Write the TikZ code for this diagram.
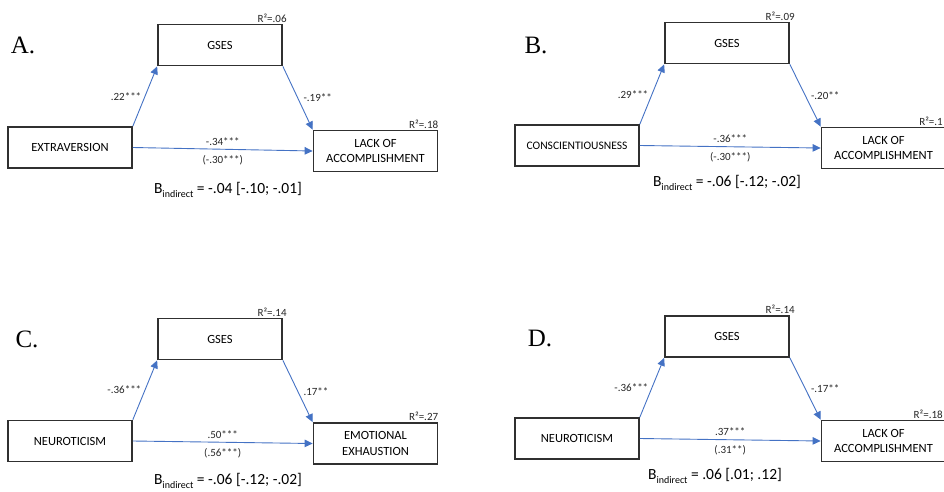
\documentclass[tikz,border=0pt]{standalone}
\usepackage{fontspec}
\setmainfont{Carlito}
\newfontfamily\letterfont{Liberation Serif}
\newcommand{\bind}[1]{B{\fontsize{10}{10}\selectfont\raisebox{-3.5pt}{indirect}} = #1}
\usepackage{tikz}
\usetikzlibrary{positioning, calc, arrows.meta}
\definecolor{pathblue}{HTML}{4472C4}
\definecolor{boxgray}{HTML}{303030}
\tikzset{>={Triangle[length=8pt,width=7.5pt]}}
\tikzset{
  var/.style={draw=boxgray, line width=1.7pt, minimum width=124pt, minimum height=41pt,
    align=center, inner sep=2pt, font=\fontsize{12.5}{15.5}\selectfont},
  coef/.style={font=\fontsize{11}{12}\selectfont, text=black!85},
  rsq/.style={coef, anchor=south east, inner sep=1pt},
  letter/.style={font=\letterfont\fontsize{25}{25}\selectfont},
  effect/.style={font=\fontsize{15.5}{18}\selectfont},
  link/.style={->, color=pathblue, line width=0.9pt}
}

\begin{document}
\begin{tikzpicture}[x=1pt, y=-1pt]
    \useasboundingbox (0,0) rectangle (944,492);
    \coordinate (edge) at (944,0);

    % A.
    \node[letter] (labA) at (23,45) {A.};
    \node[var] (gsesA) at (220,45) {GSES};
    \node[var] (extA) at (70,147.5) {EXTRAVERSION};
    \node[var] (lackA) at (375.5,151) {LACK OF\\ACCOMPLISHMENT};
    \node[rsq] (rgA) at ([xshift=5pt]gsesA.north east) {R²=.06};
    \node[rsq] (rlA) at ([xshift=1pt]lackA.north east) {R²=.18};
    \draw[link] (extA.north east) -- node[coef, left] {.22***} (gsesA.south west);
    \draw[link] (gsesA.south east) -- node[coef, right=2pt] {-.19**} (lackA.north west);
    \draw[link] (extA.east) -- node[coef, above] {-.34***} node[coef, below=2pt] {(-.30***)} (lackA.west);
    \node[effect] (indA) at (228,190) {\bind{-.04 [-.10; -.01]}};

    % B.
    \node[letter] (labB) at (536,45) {B.};
    \node[var] (gsesB) at (727,43) {GSES};
    \node[var, font=\fontsize{11.5}{14}\selectfont] (conB) at (577,145.5) {CONSCIENTIOUSNESS};
    \node[var] (lackB) at (883.5,148) {LACK OF\\ACCOMPLISHMENT};
    \node[rsq] (rgB) at ([xshift=6pt]gsesB.north east) {R²=.09};
    \node[rsq] (rlB) at (lackB.north -| edge) {R²=.1};
    \draw[link] (conB.north east) -- node[coef, left] {.29***} (gsesB.south west);
    \draw[link] (gsesB.south east) -- node[coef, right=2pt] {-.20**} (lackB.north west);
    \draw[link] (conB.east) -- node[coef, above] {-.36***} node[coef, below=2pt] {(-.30***)} (lackB.west);
    \node[effect] (indB) at (727,183) {\bind{-.06 [-.12; -.02]}};

    % C.
    \node[letter] (labC) at (27,339) {C.};
    \node[var] (gsesC) at (220,339) {GSES};
    \node[var] (neuC) at (70,441) {NEUROTICISM};
    \node[var] (emoC) at (375.5,443.5) {EMOTIONAL\\EXHAUSTION};
    \node[rsq] (rgC) at ([xshift=5pt]gsesC.north east) {R²=.14};
    \node[rsq] (rlC) at ([xshift=1pt]emoC.north east) {R²=.27};
    \draw[link] (neuC.north east) -- node[coef, left] {-.36***} (gsesC.south west);
    \draw[link] (gsesC.south east) -- node[coef, right=2pt] {.17**} (emoC.north west);
    \draw[link] (neuC.east) -- node[coef, above] {.50***} node[coef, below=2pt] {(.56***)} (emoC.west);
    \node[effect] (indC) at (228,481) {\bind{-.06 [-.12; -.02]}};

    % D.
    \node[letter] (labD) at (540,338) {D.};
    \node[var] (gsesD) at (727,336.5) {GSES};
    \node[var] (neuD) at (577,438.5) {NEUROTICISM};
    \node[var] (lackD) at (883.5,441) {LACK OF\\ACCOMPLISHMENT};
    \node[rsq] (rgD) at ([xshift=6pt]gsesD.north east) {R²=.14};
    \node[rsq] (rlD) at (lackD.north -| edge) {R²=.18};
    \draw[link] (neuD.north east) -- node[coef, left] {-.36***} (gsesD.south west);
    \draw[link] (gsesD.south east) -- node[coef, right=2pt] {-.17**} (lackD.north west);
    \draw[link] (neuD.east) -- node[coef, above] {.37***} node[coef, below=2pt] {(.31**)} (lackD.west);
    \node[effect] (indD) at (715,476) {\bind{.06 [.01; .12]}};
\end{tikzpicture}
\end{document}
